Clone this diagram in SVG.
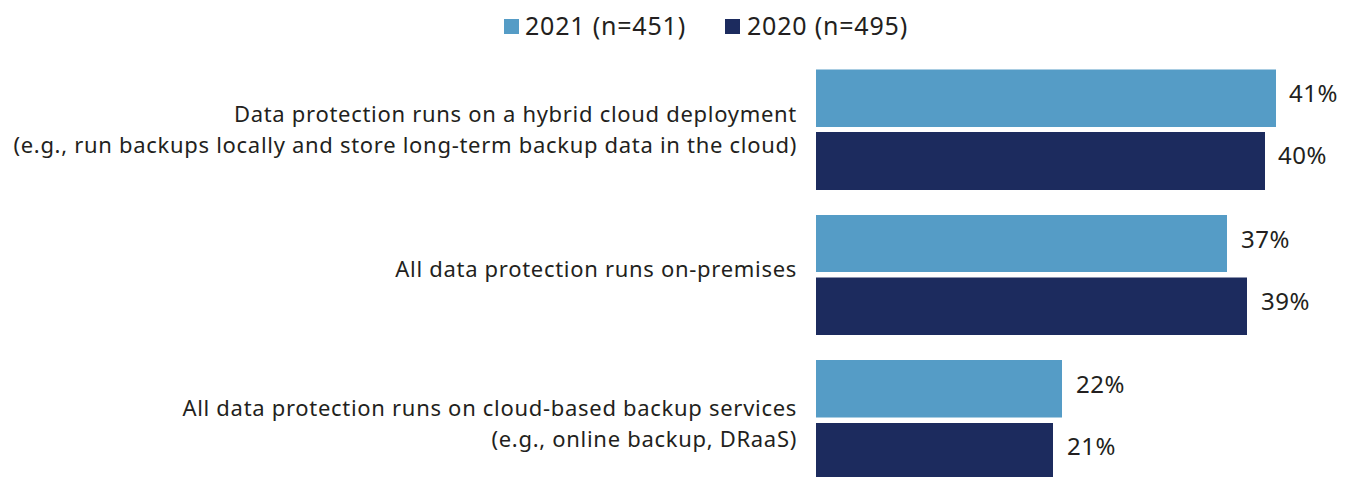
<svg xmlns="http://www.w3.org/2000/svg" width="1349" height="477" viewBox="0 0 1349 477">
<style>
.lbl{font-family:"Noto Sans","Liberation Sans",sans-serif;font-size:22px;letter-spacing:0.7px;fill:#231f20;text-anchor:end}
.pct{font-family:"Noto Sans","Liberation Sans",sans-serif;font-size:24px;letter-spacing:0.5px;fill:#231f20}
.leg{font-family:"Noto Sans","Liberation Sans",sans-serif;font-size:25px;letter-spacing:0.8px;fill:#231f20}
.b21{fill:#559cc6}
.b20{fill:#1c2b5e}
</style>
<rect width="1349" height="477" fill="#ffffff"/>
<g id="legend">
<rect class="b21" x="504" y="19" width="15" height="15"/>
<text class="leg" x="525" y="35">2021 (n=451)</text>
<rect class="b20" x="725" y="19" width="15" height="15"/>
<text class="leg" x="747" y="35">2020 (n=495)</text>
</g>
<g id="hybrid">
<text class="lbl" x="797" y="122">Data protection runs on a hybrid cloud deployment</text>
<text class="lbl" x="797" y="153">(e.g., run backups locally and store long-term backup data in the cloud)</text>
<rect class="b21" x="816" y="69.5" width="460" height="57.5"/>
<rect class="b20" x="816" y="132" width="449" height="58"/>
<text class="pct" x="1289" y="102">41%</text>
<text class="pct" x="1278" y="164">40%</text>
</g>
<g id="onprem">
<text class="lbl" x="797" y="277">All data protection runs on-premises</text>
<rect class="b21" x="816" y="215" width="411" height="57"/>
<rect class="b20" x="816" y="277.5" width="431" height="57.5"/>
<text class="pct" x="1241" y="248">37%</text>
<text class="pct" x="1261" y="310">39%</text>
</g>
<g id="cloud">
<text class="lbl" x="797" y="416">All data protection runs on cloud-based backup services</text>
<text class="lbl" x="797" y="447">(e.g., online backup, DRaaS)</text>
<rect class="b21" x="816" y="360" width="246" height="57.5"/>
<rect class="b20" x="816" y="423" width="237" height="57"/>
<text class="pct" x="1076" y="393">22%</text>
<text class="pct" x="1067" y="455">21%</text>
</g>
<g id="connectors"/>
</svg>
